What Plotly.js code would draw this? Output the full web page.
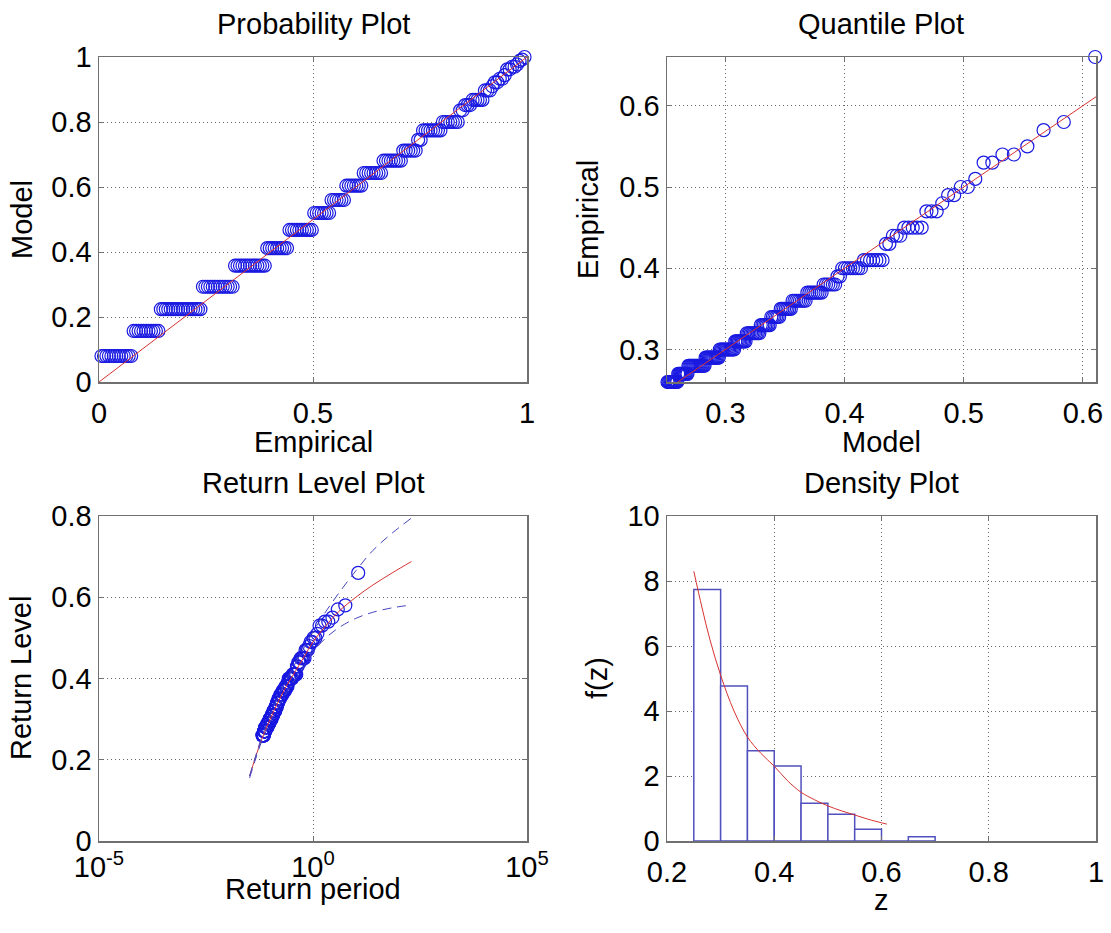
<!DOCTYPE html>
<html>
<head>
<meta charset="utf-8">
<script src="https://cdn.plot.ly/plotly-3.0.1.min.js"></script>
<style>html,body{margin:0;padding:0;background:#fff;}#chart{width:1111px;height:933px;}</style>
</head>
<body>
<div id="chart"></div>
<script>
// ---------------- DATA ----------------
// Observed exceedances: distinct values and how many times each occurs
const zLevels = [0.26,0.27,0.28,0.29,0.30,0.31,0.32,0.33,0.34,0.35,0.36,0.37,0.38,0.39,0.40,0.41,0.43,0.44,0.45,0.47,0.48,0.49,0.50,0.51,0.53,0.54,0.55,0.57,0.58,0.66];
const zCounts = [13,11,17,13,13,9,10,7,6,7,8,8,6,2,8,7,2,3,5,3,1,2,2,1,2,2,1,1,1,1];
// Model probability of each distinct value (Probability Plot, y)
const modelProb = [0.080,0.157,0.224,0.293,0.358,0.412,0.468,0.520,0.560,0.604,0.643,0.681,0.712,0.745,0.774,0.800,0.836,0.852,0.868,0.897,0.910,0.922,0.933,0.944,0.962,0.970,0.977,0.988,0.992,1.000];
// Model quantile of each ordered observation (Quantile Plot, x)
const modelQuantile = [
 0.2507,0.2514,0.2522,0.2529,0.2537,0.2544,0.2551,0.2559,0.2566,0.2574,0.2581,0.2589,0.2596,
 0.2604,0.2612,0.2620,0.2627,0.2635,0.2643,0.2651,0.2659,0.2666,0.2674,0.2682,
 0.2690,0.2698,0.2707,0.2715,0.2724,0.2732,0.2740,0.2749,0.2757,0.2766,0.2774,0.2783,0.2791,0.2800,0.2808,0.2817,0.2825,
 0.2834,0.2843,0.2852,0.2862,0.2871,0.2880,0.2889,0.2898,0.2907,0.2917,0.2926,0.2935,0.2944,
 0.2953,0.2963,0.2973,0.2983,0.2993,0.3003,0.3013,0.3023,0.3033,0.3043,0.3053,0.3063,0.3073,
 0.3083,0.3094,0.3104,0.3115,0.3126,0.3137,0.3148,0.3158,0.3169,
 0.3180,0.3192,0.3203,0.3215,0.3227,0.3238,0.3250,0.3262,0.3273,0.3285,
 0.3297,0.3310,0.3322,0.3335,0.3347,0.3360,0.3372,
 0.3385,0.3398,0.3411,0.3425,0.3438,0.3451,
 0.3464,0.3478,0.3492,0.3507,0.3521,0.3535,0.3549,
 0.3564,0.3580,0.3595,0.3611,0.3626,0.3642,0.3657,0.3673,
 0.3688,0.3705,0.3722,0.3739,0.3756,0.3773,0.3790,0.3807,
 0.3825,0.3844,0.3863,0.3883,0.3902,0.3921,
 0.3941,0.3961,
 0.3981,0.4003,0.4026,0.4048,0.4070,0.4093,0.4115,0.4137,
 0.4162,0.4188,0.4214,0.4240,0.4267,0.4293,0.4319,
 0.4347,0.4376,
 0.4406,0.4437,0.4468,
 0.4501,0.4536,0.4572,0.4609,0.4647,
 0.4687,0.4729,0.4773,
 0.4820,
 0.4869,0.4920,
 0.4975,0.5034,
 0.5097,
 0.5167,0.5240,
 0.5325,0.5421,
 0.5534,
 0.5670,
 0.5840,
 0.6103];
// Events per year (sets the return period of the plotted observations)
const eventsPerYear = 15.2;
// Fitted return level curve and its confidence bounds
const rlPeriod = [0.033,0.045,0.063,0.1,0.158,0.25,0.4,0.63,1,2,4,10,25,71,200];
const rlLevel  = [0.160,0.205,0.250,0.300,0.345,0.385,0.420,0.455,0.490,0.530,0.565,0.600,0.630,0.660,0.688];
const rlUpper  = [0.160,0.207,0.255,0.310,0.358,0.400,0.440,0.477,0.515,0.565,0.610,0.665,0.715,0.758,0.795];
const rlLower  = [0.155,0.200,0.245,0.292,0.332,0.368,0.400,0.432,0.465,0.500,0.525,0.548,0.563,0.574,0.581];
// Density plot: histogram (left bin edges, density) and fitted density curve
const binLeft    = [0.25,0.30,0.35,0.40,0.45,0.50,0.55,0.60,0.65];
const binDensity = [7.74,4.77,2.78,2.31,1.16,0.82,0.36,0,0.13];
const binWidth = 0.05;
const densZ = [0.25,0.265,0.28,0.30,0.325,0.35,0.375,0.40,0.425,0.45,0.475,0.50,0.525,0.55,0.575,0.60,0.61];
const densF = [8.3,7.2,6.2,5.1,4.0,3.2,2.7,2.3,1.85,1.5,1.27,1.08,0.93,0.8,0.67,0.56,0.52];
// Reference diagonals
const ppDiag = [0, 1];
const qqDiag = [0.251, 0.611];

// ---------------- BUILD ----------------
const zSorted = [], ppY = [], rank = [];
zLevels.forEach((v, k) => { for (let j = 0; j < zCounts[k]; j++) { zSorted.push(v); ppY.push(modelProb[k]); rank.push(zSorted.length); } });
const n = zSorted.length;
const ppX = rank.map(r => r / (n + 1));
const rpX = rank.map(r => (n + 1) / (eventsPerYear * (n + 1 - r)));
const binX = binLeft.map(b => b + binWidth / 2);

const BLUE = 'rgb(25,25,225)';
const RED = 'rgb(215,50,50)';
const mk = {symbol: 'circle-open', size: 13, color: BLUE, line: {width: 1.2, color: BLUE}};
const FONT = 'Liberation Sans, Arial, sans-serif';
const FS = 29;

const traces = [
  {x: ppX, y: ppY, xaxis: 'x', yaxis: 'y', mode: 'markers', type: 'scatter', marker: mk, cliponaxis: false},
  {x: ppDiag, y: ppDiag, xaxis: 'x', yaxis: 'y', mode: 'lines', type: 'scatter', line: {color: RED, width: 1}},
  {x: modelQuantile, y: zSorted, xaxis: 'x2', yaxis: 'y2', mode: 'markers', type: 'scatter', marker: mk, cliponaxis: false},
  {x: qqDiag, y: qqDiag, xaxis: 'x2', yaxis: 'y2', mode: 'lines', type: 'scatter', line: {color: RED, width: 1}},
  {x: rpX, y: zSorted, xaxis: 'x3', yaxis: 'y3', mode: 'markers', type: 'scatter', marker: mk, cliponaxis: false},
  {x: rlPeriod, y: rlLevel, xaxis: 'x3', yaxis: 'y3', mode: 'lines', type: 'scatter', line: {color: RED, width: 1, shape: 'spline'}},
  {x: rlPeriod, y: rlUpper, xaxis: 'x3', yaxis: 'y3', mode: 'lines', type: 'scatter', line: {color: 'rgb(70,70,190)', width: 1, dash: '9px,6px', shape: 'spline'}},
  {x: rlPeriod, y: rlLower, xaxis: 'x3', yaxis: 'y3', mode: 'lines', type: 'scatter', line: {color: 'rgb(70,70,190)', width: 1, dash: '9px,6px', shape: 'spline'}},
  {x: binX, y: binDensity, width: binLeft.map(() => binWidth), xaxis: 'x4', yaxis: 'y4', type: 'bar',
   marker: {color: 'rgba(255,255,255,1)', line: {color: 'rgb(80,80,190)', width: 1.5}}},
  {x: densZ, y: densF, xaxis: 'x4', yaxis: 'y4', mode: 'lines', type: 'scatter', line: {color: RED, width: 1, shape: 'spline'}}
];

const W = 1111, H = 933;
const dx = (a, b) => [a / W, b / W];
const dy = (top, bot) => [1 - bot / H, 1 - top / H];
const base = {
  showline: true, linecolor: '#707070', linewidth: 1.5, mirror: 'ticks',
  ticks: 'inside', ticklen: 5, tickcolor: '#707070', tickwidth: 1,
  showgrid: true, gridcolor: '#666', gridwidth: 1, griddash: '1px,3px',
  zeroline: false, fixedrange: true, automargin: false,
  tickfont: {family: FONT, size: FS, color: '#000'}
};
const xa = (o) => Object.assign({}, base, {ticklabelstandoff: 5}, o);
const ya = (o) => Object.assign({}, base, {ticklabelstandoff: 0}, o);

const ann = (text, xpx, ypx, angle) => ({
  text: text, xref: 'paper', yref: 'paper', x: xpx / W, y: 1 - ypx / H,
  xanchor: 'center', yanchor: 'middle', showarrow: false, textangle: angle || 0,
  font: {family: FONT, size: FS, color: '#000'}
});

const layout = {
  width: W, height: H, margin: {l: 0, r: 0, t: 0, b: 0},
  paper_bgcolor: '#fff', plot_bgcolor: '#fff', showlegend: false, hovermode: false, bargap: 0,
  xaxis:  xa({domain: dx(99, 527), range: [0, 1], tickvals: [0, 0.5, 1], anchor: 'y'}),
  yaxis:  ya({domain: dy(57, 382), range: [0, 1], tickvals: [0, 0.2, 0.4, 0.6, 0.8, 1], anchor: 'x'}),
  xaxis2: xa({domain: dx(667, 1096), range: [0.251, 0.611], tickvals: [0.3, 0.4, 0.5, 0.6], anchor: 'y2'}),
  yaxis2: ya({domain: dy(57, 382), range: [0.26, 0.66], tickvals: [0.3, 0.4, 0.5, 0.6], anchor: 'x2'}),
  xaxis3: Object.assign(xa({domain: dx(99, 527), type: 'log', range: [-5, 5], tickvals: [1e-5, 1, 1e5],
              ticktext: ['10<sup>-5</sup>', '10<sup>0</sup>', '10<sup>5</sup>'], anchor: 'y3'}), {ticklabelstandoff: 0}),
  yaxis3: ya({domain: dy(516, 841), range: [0, 0.8], tickvals: [0, 0.2, 0.4, 0.6, 0.8], anchor: 'x3'}),
  xaxis4: xa({domain: dx(667, 1096), range: [0.2, 1], tickvals: [0.2, 0.4, 0.6, 0.8, 1], anchor: 'y4'}),
  yaxis4: ya({domain: dy(516, 841), range: [0, 10], tickvals: [0, 2, 4, 6, 8, 10], anchor: 'x4'}),
  annotations: [
    ann('Probability Plot', 313, 24),
    ann('Quantile Plot', 881, 24),
    ann('Return Level Plot', 313, 483),
    ann('Density Plot', 881, 483),
    ann('Empirical', 313, 442),
    ann('Model', 881, 442),
    ann('Return period', 313, 889),
    ann('z', 881, 900),
    ann('Model', 22, 220, -90),
    ann('Empirical', 588, 220, -90),
    ann('Return Level', 21, 678, -90),
    ann('f(z)', 597, 678, -90)
  ]
};

Plotly.newPlot('chart', traces, layout, {staticPlot: true, displayModeBar: false});
</script>
</body>
</html>
